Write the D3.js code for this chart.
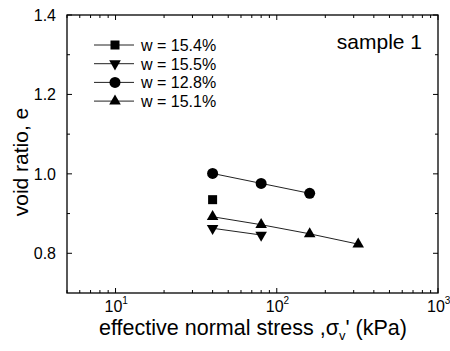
<!DOCTYPE html>
<html>
<head>
<meta charset="utf-8">
<script src="https://cdn.jsdelivr.net/npm/d3@7"></script>
<style>
  body { margin: 0; background: #fff; }
  svg { font-family: Arial, "Liberation Sans", sans-serif; }
</style>
</head>
<body>
<svg id="chart" width="450" height="351"></svg>
<script>
// stress (kPa) and void ratio per series
const stress154 = [40];
const e154      = [0.935];
const stress155 = [40, 80];
const e155      = [0.863, 0.846];
const stress128 = [40, 80, 160];
const e128      = [1.001, 0.976, 0.951];
const stress151 = [40, 80, 160, 320];
const e151      = [0.892, 0.872, 0.849, 0.823];

const seriesNames = ['w = 15.4%', 'w = 15.5%', 'w = 12.8%', 'w = 15.1%'];
const yTicks = [0.8, 1.0, 1.2, 1.4];
const xTicks = [10, 100, 1000];

const series = [
    { name: seriesNames[0], sym: 'square',   xs: stress154, ys: e154 },
    { name: seriesNames[1], sym: 'down',     xs: stress155, ys: e155 },
    { name: seriesNames[2], sym: 'circle',   xs: stress128, ys: e128 },
    { name: seriesNames[3], sym: 'up',       xs: stress151, ys: e151 }
];

const L = 67, R = 438, T = 15, B = 293;
const svg = d3.select('#chart');

const x = d3.scaleLog().domain([5, 1000]).range([L, R]);
const y = d3.scaleLinear().domain([0.7, 1.4]).range([B, T]);

function marker(g, sym, cx, cy) {
    if (sym === 'circle') {
        g.append('circle').attr('cx', cx).attr('cy', cy).attr('r', 5.5).attr('fill', '#000');
    } else if (sym === 'square') {
        g.append('rect').attr('x', cx - 4.5).attr('y', cy - 4.5).attr('width', 9).attr('height', 9).attr('fill', '#000');
    } else {
        const s = d3.symbol().type(d3.symbolTriangle).size(58)();
        g.append('path').attr('d', s)
            .attr('transform', `translate(${cx},${cy})` + (sym === 'down' ? ' rotate(180)' : ''))
            .attr('fill', '#000');
    }
}

// minor / major ticks
const xMinor = [];
[1, 10, 100].forEach(d => { for (let k = 2; k <= 9; k++) if (d * k >= 5) xMinor.push(d * k); });
const yMinor = [0.9, 1.1, 1.3];

const tk = svg.append('g').attr('stroke', '#000').attr('stroke-width', 1);
xTicks.forEach(v => {
    tk.append('line').attr('x1', x(v)).attr('x2', x(v)).attr('y1', B).attr('y2', B - 5);
    tk.append('line').attr('x1', x(v)).attr('x2', x(v)).attr('y1', T).attr('y2', T + 5);
});
xMinor.forEach(v => {
    tk.append('line').attr('x1', x(v)).attr('x2', x(v)).attr('y1', B).attr('y2', B - 3);
    tk.append('line').attr('x1', x(v)).attr('x2', x(v)).attr('y1', T).attr('y2', T + 3);
});
yTicks.forEach(v => {
    tk.append('line').attr('x1', L).attr('x2', L + 5).attr('y1', y(v)).attr('y2', y(v));
    tk.append('line').attr('x1', R).attr('x2', R - 5).attr('y1', y(v)).attr('y2', y(v));
});
yMinor.forEach(v => {
    tk.append('line').attr('x1', L).attr('x2', L + 3).attr('y1', y(v)).attr('y2', y(v));
    tk.append('line').attr('x1', R).attr('x2', R - 3).attr('y1', y(v)).attr('y2', y(v));
});

svg.append('rect').attr('x', L).attr('y', T).attr('width', R - L).attr('height', B - T)
    .attr('fill', 'none').attr('stroke', '#000').attr('stroke-width', 1.3);

// tick labels
svg.append('g').selectAll('text').data(yTicks).join('text')
    .attr('x', 56).attr('y', d => y(d) + 6)
    .attr('text-anchor', 'end').attr('font-size', 16)
    .text(d => d.toFixed(1));

const xl = svg.append('g').selectAll('text').data(xTicks).join('text')
    .attr('x', d => x(d) - 11).attr('y', 312)
    .attr('font-size', 16);
xl.append('tspan').text('10');
xl.append('tspan').attr('dy', -8).attr('font-size', 10).text(d => Math.round(Math.log10(d)));

// axis titles
svg.append('text').attr('transform', 'translate(28,162) rotate(-90)')
    .attr('text-anchor', 'middle').attr('font-size', 21).text('void ratio, e');

const xt = svg.append('text').attr('x', 253).attr('y', 335)
    .attr('text-anchor', 'middle').attr('font-size', 21.5);
xt.append('tspan').text('effective normal stress ,σ');
xt.append('tspan').attr('dy', 5).attr('font-size', 13).text('v');
xt.append('tspan').attr('dy', -5).text("' (kPa)");

// data
const line = d3.line().x(d => x(d[0])).y(d => y(d[1]));
const dg = svg.append('g');
series.forEach(s => {
    const pts = s.xs.map((v, i) => [v, s.ys[i]]);
    if (pts.length > 1) {
        dg.append('path').attr('d', line(pts)).attr('fill', 'none')
            .attr('stroke', '#222').attr('stroke-width', 1);
    }
    pts.forEach(p => marker(dg, s.sym, x(p[0]), y(p[1])));
});

// legend
const lg = svg.append('g');
series.forEach((s, i) => {
    const ly = 45 + i * 18.7;
    lg.append('line').attr('x1', 94).attr('x2', 134).attr('y1', ly).attr('y2', ly)
        .attr('stroke', '#222').attr('stroke-width', 1);
    marker(lg, s.sym, 115, ly);
    lg.append('text').attr('x', 141).attr('y', ly + 6).attr('font-size', 16).text(s.name);
});

svg.append('text').attr('x', 422).attr('y', 49).attr('text-anchor', 'end')
    .attr('font-size', 21).text('sample 1');
</script>
</body>
</html>
